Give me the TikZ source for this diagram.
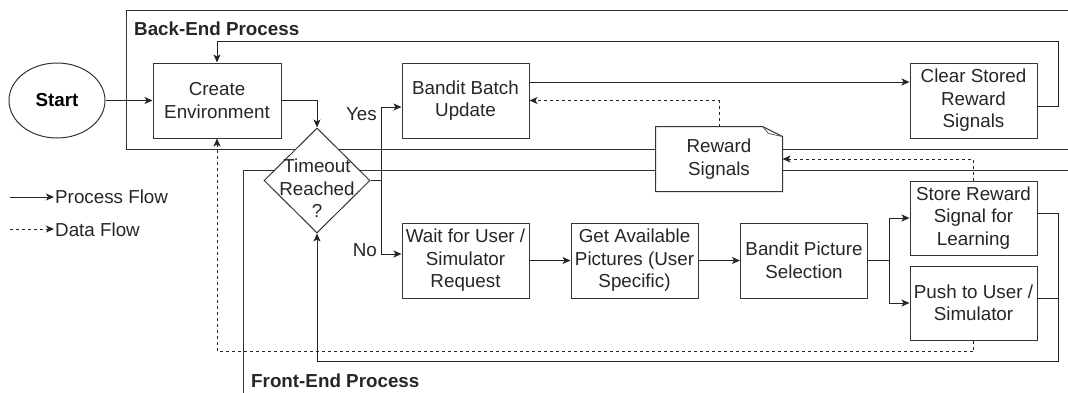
\documentclass[tikz,border=0pt]{standalone}
\usepackage{fontspec}
\setmainfont{Liberation Sans}
\usetikzlibrary{arrows.meta,shapes.geometric,calc}

\newcommand{\flowfont}{\fontsize{18.8}{22.5}\selectfont}

\tikzset{
	procbox/.style={draw=black!80, fill=white, line width=1pt, minimum width=127pt, minimum height=75pt, inner sep=1pt, align=center, font=\flowfont, text=black!85},
	flowline/.style={draw=black!85, line width=1pt, -{Stealth[length=8pt,width=7pt,inset=2pt]}},
	dataline/.style={flowline, dash pattern=on 3pt off 3pt},
	arealine/.style={draw=black!80, line width=1pt},
	lbl/.style={font=\flowfont, text=black!85, inner sep=1pt},
}

\begin{document}
\begin{tikzpicture}[x=1pt, y=-1pt]
		%%%%% START %%%%%
		\clip (0, 0) rectangle (1068, 392);
		
		% the two process areas (open to the right)
		\draw[arealine] (126, 10) rectangle (1090, 149);
		\draw[arealine] (243, 170) rectangle (1090, 410);
		\node[lbl, font=\flowfont\bfseries, anchor=base west] (backend) at (133, 35) {Back-End Process};
		\node[lbl, font=\flowfont\bfseries, anchor=base west] (frontend) at (250, 387) {Front-End Process};
		
		% legend
		\node[lbl, anchor=base west] (pflow) at (54, 203) {Process Flow};
		\node[lbl, anchor=base west] (dflow) at (54, 236) {Data Flow};
		\coordinate (pf) at (10, 197);
		\coordinate (df) at (10, 229);
		\draw[flowline] (pf) -- (pf -| pflow.west);
		\draw[dataline] (df) -- (df -| dflow.west);
		
		% back-end
		\node[ellipse, draw=black!80, line width=1pt, minimum width=96pt, minimum height=75pt, font=\flowfont\bfseries] (start) at (57, 100.5) {Start};
		\node[procbox, minimum width=128pt] (create) at (217, 100.5) {Create\\Environment};
		\node[procbox] (batch) at (465.5, 100.5) {Bandit Batch\\Update};
		\node[procbox] (clear) at (973.5, 100.5) {Clear Stored\\Reward\\Signals};
		
		\node[diamond, draw=black!80, fill=white, line width=1pt, minimum width=106pt, minimum height=105pt, inner sep=0pt,
			label={[lbl, align=center, yshift=-8pt]center:Timeout\\Reached\\?}] (timeout) at (317, 180.5) {};
		
		% reward signals (note with folded corner)
		\node[procbox, draw=none, minimum width=126pt, minimum height=64pt] (reward) at (719, 159) {Reward\\Signals};
		\draw[arealine] (reward.south west) -- (reward.north west) -- ([xshift=-20pt]reward.north east)
			-- ([yshift=-10pt]reward.north east) -- (reward.south east) -- cycle;
		\draw[draw=black!70, line width=0.7pt] ([xshift=-20pt]reward.north east) -- ([xshift=-14pt,yshift=-7pt]reward.north east) -- ([yshift=-10pt]reward.north east);
		
		% front-end
		\node[procbox] (wait) at (465.5, 260.5) {Wait for User /\\Simulator\\Request};
		\node[procbox] (getpics) at (634.5, 260.5) {Get Available\\Pictures (User\\Specific)};
		\node[procbox] (picsel) at (804, 260.5) {Bandit Picture\\Selection};
		\node[procbox, minimum height=74pt] (store) at (973.5, 218) {Store Reward\\Signal for\\Learning};
		\node[procbox, minimum height=74pt] (push) at (973.5, 303) {Push to User /\\Simulator};
		
		% process flow
		\draw[flowline] (start) -- (create);
		\draw[flowline] (create.east) -| (timeout.north);
		\draw[flowline] (timeout.east) -- ++(11, 0) coordinate (fork) |- ([yshift=-6.5pt]batch.west);
		\draw[flowline] (fork) |- ([yshift=6.5pt]wait.west);
		\node[lbl, anchor=base east] (yes) at (378, 120) {Yes};
		\node[lbl, anchor=base east] (no) at (378, 256) {No};
		
		\draw[flowline] ([yshift=18.5pt]batch.east) -- ([yshift=18.5pt]clear.west);
		\draw[flowline] ([yshift=-5.5pt]clear.east) -- ++(21, 0) |- ($(create.north)+(0, -21)$) -- (create.north);
		
		\draw[flowline] (wait) -- (getpics);
		\draw[flowline] (getpics) -- (picsel);
		\draw[flowline] (picsel.east) -- ++(21, 0) coordinate (pick) |- (store.west);
		\draw[flowline] (pick) |- (push.west);
		
		\coordinate (ret) at (1058, 361.5);
		\draw[flowline] ([yshift=5pt]store.east) -| (ret) -| (timeout.south);
		\draw[arealine, draw=black!85] ([yshift=5pt]push.east) -| (ret);
		
		% data flow
		\draw[dataline] (reward.north) |- (batch.east);
		\draw[dataline] (store.north) |- (reward.east);
		\draw[dataline] (push.south) -- ++(0, 11) -| (create.south);
		
		%%%%% END %%%%%
	\end{tikzpicture}
\end{document}
